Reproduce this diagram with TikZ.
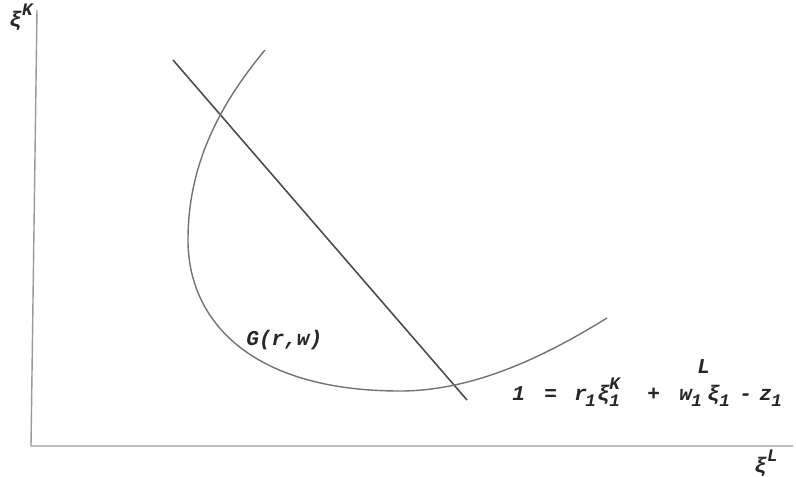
\documentclass[tikz,border=0pt]{standalone}
\usepackage{fontspec}
\newfontfamily\tw{Liberation Mono}
\newlength\px \setlength\px{0.569pt}
\newcommand\lo[1]{\raisebox{-0.6ex}{\fontsize{10}{10}\selectfont #1}}
\newcommand\hi[1]{\raisebox{0.9ex}{\fontsize{10}{10}\selectfont #1}}
\newcommand\bx[2]{\makebox[#1\px][l]{#2}}
\tikzset{
  lab/.style={font=\tw\bfseries\itshape\fontsize{12}{13}\selectfont, inner sep=0pt, text=black!85},
  axis/.style={draw=black!40, line width=0.8pt},
  budget/.style={draw=black!70, line width=0.9pt},
  curve/.style={draw=black!55, line width=0.8pt},
}
\begin{document}
\begin{tikzpicture}[x=0.02cm,y=-0.02cm]
\useasboundingbox (0,0) rectangle (796,477);
% axes
\coordinate (top) at (37,10);
\coordinate (orig) at (31,446);
\coordinate (right) at (793,446);
\draw[axis] (top) -- (orig) -- (right);
% labels of axes
\node[lab, anchor=base west] (xik) at (9,26) {ξ\hi{K}};
\node[lab, anchor=base west] (xil) at (754,472) {ξ\hi{L}};
% budget line
\coordinate (b1) at (173,60);
\coordinate (b2) at (467,400);
\draw[budget] (b1) -- (b2);
% curve G(r,w)
\coordinate (c0) at (265,50);
\coordinate (c1) at (188,240);
\coordinate (c2) at (400,391);
\coordinate (c3) at (607,318);
\draw[curve] (c0) .. controls (215,110) and (188,170) .. (c1)
  .. controls (188,320) and (250,391) .. (c2)
  .. controls (480,391) and (555,350) .. (c3);
\node[lab, anchor=base west] (g) at (246,345) {G(r,w)};
% equation
\node[lab, anchor=base west] (eq) at (512,400)
  {\bx{32}{1}\bx{30}{=}\bx{11}{r}\bx{12}{\lo{1}}\bx{12}{ξ}\bx{38}{\rlap{\lo{1}}\hi{K}}\bx{32}{+}\bx{12}{w}\bx{16}{\lo{1}}\bx{12}{\rlap{\hspace{-10\px}\raisebox{2.4ex}{L}}ξ}\bx{20}{\lo{1}}\bx{20}{-}\bx{12}{z}\lo{1}};
\end{tikzpicture}
\end{document}
